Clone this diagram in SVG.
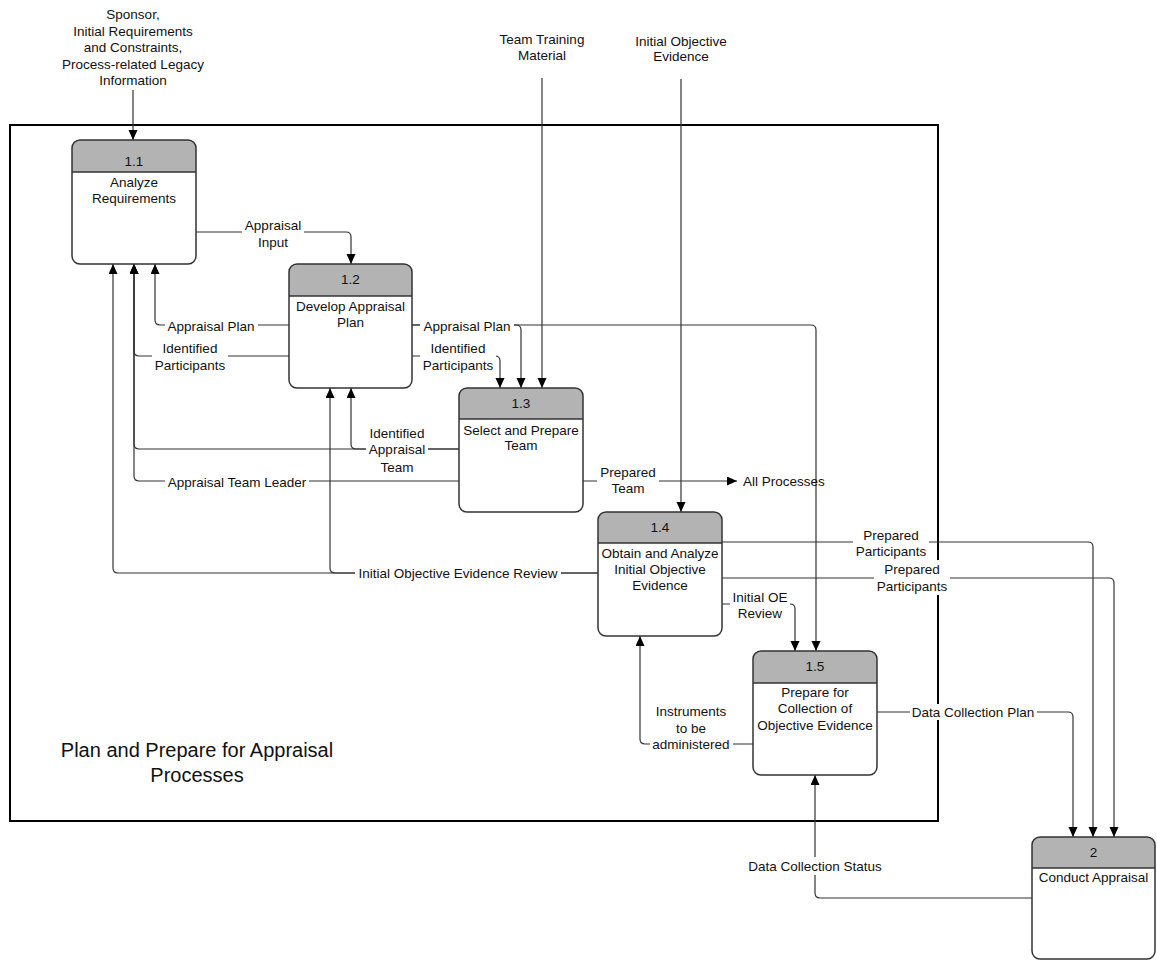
<svg xmlns="http://www.w3.org/2000/svg" width="1157" height="960" viewBox="0 0 1157 960">
<style>
text{font-family:"Liberation Sans",Arial,sans-serif;font-size:13.5px;fill:#111;text-anchor:middle}
.big{font-size:20px}
.start{text-anchor:start}
.c{fill:none;stroke:#333;stroke-width:1.2}
.a{marker-end:url(#ah)}
.bg{fill:#fff;stroke:none}
.body{fill:#fff;stroke:none}
.hd{fill:#b3b3b3;stroke:none}
.ol{fill:none;stroke:#333;stroke-width:1.5}
</style>
<defs>
<marker id="ah" markerUnits="userSpaceOnUse" markerWidth="11" markerHeight="10" refX="10" refY="4.5" orient="auto">
<path d="M0,0 L10,4.5 L0,9 Z" fill="#000"/>
</marker>
</defs>
<rect x="0" y="0" width="1157" height="960" fill="#fff"/>
<rect id="frame" x="10" y="125" width="928" height="696" fill="none" stroke="#000" stroke-width="2"/>
<text class="big" x="197" y="757">Plan and Prepare for Appraisal</text>
<text class="big" x="197" y="782">Processes</text>
<g id="connectors">
<path class="c a" d="M133 90V140"/>
<path class="c a" d="M542 78V388"/>
<path class="c a" d="M681 79V512"/>
<path class="c a" d="M196 232H346Q351 232 351 237V264"/>
<path class="c a" d="M289 325H160Q155 325 155 320V264"/>
<path class="c a" d="M289 356H139Q134 356 134 351V264"/>
<path class="c a" d="M412 325H516Q521 325 521 330V388"/>
<path class="c a" d="M412 325H811Q816 325 816 330V651"/>
<path class="c a" d="M412 356H495Q500 356 500 361V388"/>
<path class="c a" d="M459 449H356Q351 449 351 444V388"/>
<path class="c a" d="M459 449H139Q134 449 134 444V264"/>
<path class="c a" d="M459 481H139Q134 481 134 476V264"/>
<path class="c a" d="M598 573H335Q330 573 330 568V388"/>
<path class="c a" d="M598 573H118Q113 573 113 568V264"/>
<path class="c a" d="M583 481H737"/>
<path class="c a" d="M722 542H1088Q1093 542 1093 547V837"/>
<path class="c a" d="M722 578H1109Q1114 578 1114 583V837"/>
<path class="c a" d="M722 604H790Q795 604 795 609V651"/>
<path class="c a" d="M753 744H645Q640 744 640 739V636"/>
<path class="c a" d="M877 712H1068Q1073 712 1073 717V837"/>
<path class="c a" d="M1032 898H820Q815 898 815 893V775"/>
</g>
<g id="labels">
<text x="133" y="19">Sponsor,</text>
<text x="133" y="35.5">Initial Requirements</text>
<text x="133" y="52">and Constraints,</text>
<text x="133" y="68.5">Process-related Legacy</text>
<text x="133" y="85">Information</text>
<text x="542" y="43.5">Team Training</text>
<text x="542" y="59.5">Material</text>
<text x="681" y="45.5">Initial Objective</text>
<text x="681" y="61">Evidence</text>

<rect class="bg" x="242" y="215" width="62" height="35"/>
<text x="273" y="229.5">Appraisal</text>
<text x="273" y="246.5">Input</text>

<rect class="bg" x="165" y="318" width="93" height="16"/>
<text x="211" y="330.5">Appraisal Plan</text>

<rect class="bg" x="152" y="339" width="76" height="34"/>
<text x="190" y="352.5">Identified</text>
<text x="190" y="369.5">Participants</text>

<rect class="bg" x="420" y="318" width="94" height="16"/>
<text x="467" y="330.5">Appraisal Plan</text>

<rect class="bg" x="420" y="339" width="76" height="34"/>
<text x="458" y="352.5">Identified</text>
<text x="458" y="369.5">Participants</text>

<rect class="bg" x="366" y="424" width="62" height="51"/>
<text x="397" y="437.5">Identified</text>
<text x="397" y="453.5">Appraisal</text>
<text x="397" y="471.5">Team</text>

<rect class="bg" x="165" y="474" width="144" height="16"/>
<text x="237" y="486.5">Appraisal Team Leader</text>

<rect class="bg" x="355" y="565" width="206" height="16"/>
<text x="458" y="577.5">Initial Objective Evidence Review</text>

<rect class="bg" x="597" y="463" width="62" height="34"/>
<text x="628" y="476.5">Prepared</text>
<text x="628" y="492.5">Team</text>

<text class="start" x="743" y="486">All Processes</text>

<rect class="bg" x="853" y="526" width="76" height="33"/>
<text x="891" y="539.5">Prepared</text>
<text x="891" y="555.5">Participants</text>

<rect class="bg" x="874" y="560" width="76" height="35"/>
<text x="912" y="573.5">Prepared</text>
<text x="912" y="590.5">Participants</text>

<rect class="bg" x="730" y="589" width="60" height="32"/>
<text x="760" y="601.5">Initial OE</text>
<text x="760" y="617.5">Review</text>

<rect class="bg" x="650" y="702" width="83" height="50"/>
<text x="691" y="715.5">Instruments</text>
<text x="691" y="732.5">to be</text>
<text x="691" y="748.5">administered</text>

<rect class="bg" x="910" y="704" width="127" height="16"/>
<text x="973" y="716.5">Data Collection Plan</text>

<rect class="bg" x="746" y="857" width="138" height="18"/>
<text x="815" y="870.5">Data Collection Status</text>
</g>

<g id="n1_1">
<rect class="body" x="72" y="140" width="124" height="124" rx="8"/>
<path class="hd" d="M72 172V148Q72 140 80 140H188Q196 140 196 148V172Z"/>
<path class="ol" d="M72 172H196"/>
<rect class="ol" x="72" y="140" width="124" height="124" rx="8"/>
<text x="134" y="166">1.1</text>
<text x="134" y="186.5">Analyze</text>
<text x="134" y="203">Requirements</text>
</g>
<g id="n1_2">
<rect class="body" x="289" y="264" width="123" height="124" rx="8"/>
<path class="hd" d="M289 296V272Q289 264 297 264H404Q412 264 412 272V296Z"/>
<path class="ol" d="M289 296H412"/>
<rect class="ol" x="289" y="264" width="123" height="124" rx="8"/>
<text x="350.5" y="284">1.2</text>
<text x="350.5" y="310.5">Develop Appraisal</text>
<text x="350.5" y="326.5">Plan</text>
</g>
<g id="n1_3">
<rect class="body" x="459" y="388" width="124" height="124" rx="8"/>
<path class="hd" d="M459 419V396Q459 388 467 388H575Q583 388 583 396V419Z"/>
<path class="ol" d="M459 419H583"/>
<rect class="ol" x="459" y="388" width="124" height="124" rx="8"/>
<text x="521" y="408">1.3</text>
<text x="521" y="434.5">Select and Prepare</text>
<text x="521" y="449.5">Team</text>
</g>
<g id="n1_4">
<rect class="body" x="598" y="512" width="124" height="124" rx="8"/>
<path class="hd" d="M598 543V520Q598 512 606 512H714Q722 512 722 520V543Z"/>
<path class="ol" d="M598 543H722"/>
<rect class="ol" x="598" y="512" width="124" height="124" rx="8"/>
<text x="660" y="532">1.4</text>
<text x="660" y="557.5">Obtain and Analyze</text>
<text x="660" y="574">Initial Objective</text>
<text x="660" y="589.5">Evidence</text>
</g>
<g id="n1_5">
<rect class="body" x="753" y="651" width="124" height="124" rx="8"/>
<path class="hd" d="M753 683V659Q753 651 761 651H869Q877 651 877 659V683Z"/>
<path class="ol" d="M753 683H877"/>
<rect class="ol" x="753" y="651" width="124" height="124" rx="8"/>
<text x="815" y="671">1.5</text>
<text x="815" y="696.5">Prepare for</text>
<text x="815" y="712.5">Collection of</text>
<text x="815" y="729.5">Objective Evidence</text>
</g>
<g id="n2">
<rect class="body" x="1032" y="837" width="123" height="122" rx="8"/>
<path class="hd" d="M1032 868V845Q1032 837 1040 837H1147Q1155 837 1155 845V868Z"/>
<path class="ol" d="M1032 868H1155"/>
<rect class="ol" x="1032" y="837" width="123" height="122" rx="8"/>
<text x="1093.5" y="857">2</text>
<text x="1093.5" y="881.5">Conduct Appraisal</text>
</g>
</svg>
